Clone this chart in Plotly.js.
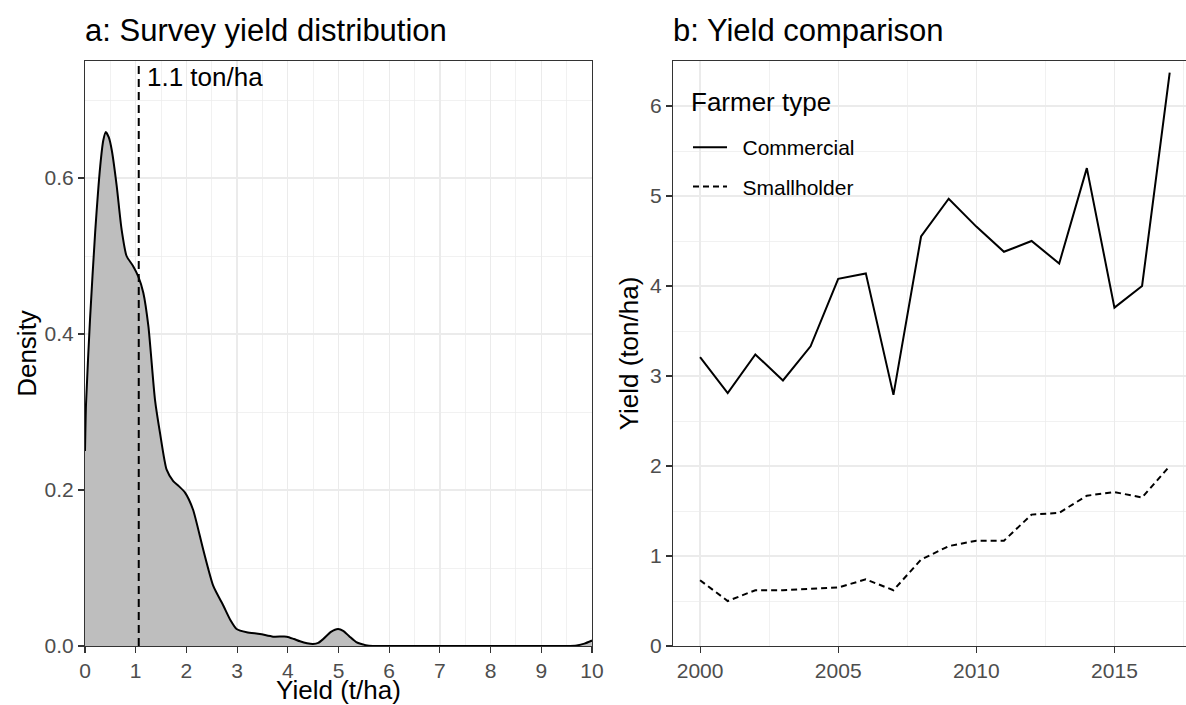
<!DOCTYPE html>
<html>
<head>
<meta charset="utf-8">
<script src="https://cdn.plot.ly/plotly-3.0.1.min.js"></script>
<style>
  html, body { margin: 0; padding: 0; background: #ffffff; }
  #chart { width: 1186px; height: 705px; }
</style>
</head>
<body>
<div id="chart"></div>
<script>
// Panel a: kernel density of surveyed yields (t/ha)
const densityX = [0, 0.02, 0.1, 0.2, 0.3, 0.36, 0.41, 0.47, 0.53, 0.625, 0.72, 0.82, 0.95, 1.05, 1.15, 1.25,
  1.38, 1.48, 1.61, 1.74, 1.85, 1.97, 2.13, 2.33, 2.53, 2.73, 2.87, 2.99, 3.19, 3.45, 3.71, 3.98, 4.12,
  4.24, 4.38, 4.50, 4.60, 4.70, 4.85, 4.99, 5.10, 5.22, 5.35, 5.45, 5.6, 6, 7, 8, 9, 9.5, 9.7, 9.85, 10];
const densityY = [0.25, 0.31, 0.42, 0.53, 0.615, 0.648, 0.659, 0.652, 0.635, 0.59, 0.535, 0.50, 0.487, 0.474,
  0.453, 0.41, 0.316, 0.273, 0.226, 0.2115, 0.205, 0.197, 0.175, 0.124, 0.077, 0.0516, 0.033, 0.0218, 0.0175,
  0.0154, 0.012, 0.012, 0.009, 0.006, 0.0035, 0.0026, 0.004, 0.009, 0.018, 0.0218, 0.019, 0.012, 0.005, 0.0026,
  0.0003, 0, 0, 0, 0, 0, 0.0008, 0.003, 0.007];
const meanYield = 1.06;

// Panel b: yearly yields by farmer type (ton/ha)
const years = [2000, 2001, 2002, 2003, 2004, 2005, 2006, 2007, 2008, 2009,
  2010, 2011, 2012, 2013, 2014, 2015, 2016, 2017];
const commercial = [3.21, 2.81, 3.24, 2.95, 3.33, 4.08, 4.14, 2.79, 4.55, 4.97,
  4.66, 4.38, 4.50, 4.25, 5.31, 3.76, 4.00, 6.37];
const smallholder = [0.73, 0.50, 0.62, 0.62, 0.635, 0.65, 0.74, 0.62, 0.96, 1.11,
  1.17, 1.17, 1.46, 1.48, 1.67, 1.71, 1.65, 2.00];
const seriesNames = ['Commercial', 'Smallholder'];
const legendTitle = 'Farmer type';

const W = 1186, H = 705;
const px = v => v / W;            // horizontal pixel -> paper fraction
const py = v => (H - v) / H;      // vertical pixel (from top) -> paper fraction

const FONT = 'Liberation Sans, Arial, Helvetica, sans-serif';
const GRID = '#EBEBEB';
const AXIS = '#333333';
const TICKTXT = '#4D4D4D';
const KEY_GAP = '\u2002';         // en space between legend key and label

const traces = [
  {
    x: densityX, y: densityY, xaxis: 'x', yaxis: 'y',
    type: 'scatter', mode: 'lines', fill: 'tozeroy',
    fillcolor: '#BEBEBE',
    line: { color: '#000000', width: 2, shape: 'spline', smoothing: 0.6 },
    showlegend: false, hoverinfo: 'x+y'
  },
  {
    x: years, y: commercial, xaxis: 'x2', yaxis: 'y2',
    type: 'scatter', mode: 'lines', name: KEY_GAP + seriesNames[0], legendgroup: 'c',
    line: { color: '#000000', width: 2 }
  },
  {
    x: years, y: smallholder, xaxis: 'x2', yaxis: 'y2',
    type: 'scatter', mode: 'lines', name: KEY_GAP + seriesNames[1], legendgroup: 's',
    line: { color: '#000000', width: 2, dash: '6px,4px' }
  }
];

const baseAxis = {
  showline: true, linecolor: AXIS, linewidth: 1.1,
  ticks: 'outside', ticklen: 6, tickwidth: 1.1, tickcolor: AXIS,
  tickfont: { family: FONT, size: 21, color: TICKTXT },
  showgrid: true, gridcolor: GRID, gridwidth: 1.3,
  zeroline: false, fixedrange: true
};
const titleFont = { family: FONT, size: 26, color: '#000000' };

const layout = {
  width: W, height: H,
  margin: { l: 0, r: 0, t: 0, b: 0 },
  paper_bgcolor: '#ffffff', plot_bgcolor: '#ffffff',
  font: { family: FONT, color: '#000000' },
  showlegend: true,
  legend: {
    x: px(688), y: py(127), xanchor: 'left', yanchor: 'top',
    bgcolor: 'rgba(255,255,255,0)', borderwidth: 0,
    font: { family: FONT, size: 21, color: '#000000' },
    itemwidth: 34,
    tracegroupgap: 9
  },
  xaxis: Object.assign({}, baseAxis, {
    domain: [px(85), px(592)], range: [0, 10], anchor: 'y',
    dtick: 1, tick0: 0, mirror: true,
    minor: { dtick: 0.5, showgrid: true, gridcolor: GRID, gridwidth: 0.7 },
    title: { text: 'Yield (t/ha)', font: titleFont, standoff: 7 }
  }),
  yaxis: Object.assign({}, baseAxis, {
    domain: [py(646), py(61)], range: [0, 0.75], anchor: 'x',
    dtick: 0.2, tick0: 0, tickformat: '.1f', mirror: true,
    minor: { dtick: 0.1, showgrid: true, gridcolor: GRID, gridwidth: 0.7 },
    title: { text: 'Density', font: titleFont, standoff: 0 }
  }),
  xaxis2: Object.assign({}, baseAxis, {
    domain: [px(673), 1], range: [1999.02, 2017.59], anchor: 'y2',
    dtick: 5, tick0: 2000, mirror: true,
    minor: { dtick: 2.5, showgrid: true, gridcolor: GRID, gridwidth: 0.7 }
  }),
  yaxis2: Object.assign({}, baseAxis, {
    domain: [py(646), py(61)], range: [0, 6.5], anchor: 'x2',
    dtick: 1, tick0: 0, mirror: false,
    minor: { dtick: 0.5, showgrid: true, gridcolor: GRID, gridwidth: 0.7 },
    title: { text: 'Yield (ton/ha)', font: titleFont, standoff: 3 }
  }),
  shapes: [
    // mean yield marker
    {
      type: 'line', xref: 'x', yref: 'y',
      x0: meanYield, x1: meanYield, y0: 0, y1: 0.75,
      line: { color: '#000000', width: 2, dash: '8px,5px' }, layer: 'above'
    },
    // white backing for the legend box inside panel b
    {
      type: 'rect', xref: 'paper', yref: 'paper',
      x0: px(675), x1: px(878), y0: py(222), y1: py(75),
      fillcolor: '#ffffff', line: { width: 0 }, layer: 'between'
    }
  ],
  annotations: [
    {
      text: 'a: Survey yield distribution', xref: 'paper', yref: 'paper',
      x: px(83), y: py(31), xanchor: 'left', yanchor: 'middle', showarrow: false,
      font: { family: FONT, size: 31, color: '#000000' }
    },
    {
      text: 'b: Yield comparison', xref: 'paper', yref: 'paper',
      x: px(671), y: py(31), xanchor: 'left', yanchor: 'middle', showarrow: false,
      font: { family: FONT, size: 31, color: '#000000' }
    },
    {
      text: meanYield.toFixed(1) + ' ton/ha', xref: 'x', yref: 'y',
      x: meanYield, y: 0.73, xanchor: 'left', yanchor: 'middle', xshift: 6,
      showarrow: false, font: { family: FONT, size: 26, color: '#000000' }
    },
    {
      text: legendTitle, xref: 'paper', yref: 'paper',
      x: px(689), y: py(102), xanchor: 'left', yanchor: 'middle', showarrow: false,
      font: { family: FONT, size: 26, color: '#000000' }
    }
  ]
};

Plotly.newPlot('chart', traces, layout, { staticPlot: true, displayModeBar: false });
</script>
</body>
</html>
